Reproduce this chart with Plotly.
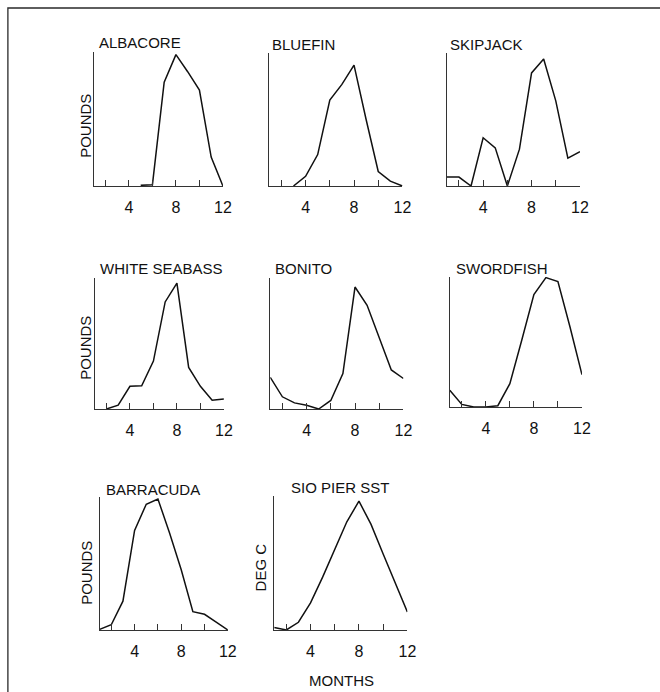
import plotly.graph_objects as go

W, H = 660, 692

months = list(range(1, 13))
albacore = [None, None, None, None, 0.005, 0.01, 0.79, 1.0, 0.87, 0.73, 0.22, 0.0]
bluefin = [None, None, 0.0, 0.08, 0.26, 0.71, 0.84, 1.0, 0.55, 0.12, 0.04, 0.0]
skipjack = [0.07, 0.07, 0.0, 0.38, 0.30, 0.0, 0.29, 0.89, 1.0, 0.67, 0.22, 0.27]
white_seabass = [None, 0.0, 0.03, 0.18, 0.185, 0.38, 0.85, 1.0, 0.33, 0.18, 0.07, 0.08]
bonito = [0.26, 0.10, 0.05, 0.03, 0.0, 0.07, 0.29, 1.0, 0.85, 0.59, 0.32, 0.25]
swordfish = [0.13, 0.02, 0.0, 0.0, 0.01, 0.18, 0.52, 0.87, 1.0, 0.97, 0.62, 0.25]
barracuda = [0.005, 0.04, 0.22, 0.76, 0.96, 1.0, 0.74, 0.46, 0.14, 0.12, 0.06, 0.0]
sio_pier_sst = [0.02, 0.0, 0.06, 0.21, 0.41, 0.63, 0.84, 1.0, 0.82, 0.59, 0.36, 0.14]

titles = ["ALBACORE", "BLUEFIN", "SKIPJACK", "WHITE SEABASS", "BONITO",
          "SWORDFISH", "BARRACUDA", "SIO PIER SST"]
series = [albacore, bluefin, skipjack, white_seabass, bonito, swordfish,
          barracuda, sio_pier_sst]
tick_vals = [2, 4, 6, 8, 10, 12]
tick_text = ["", "4", "", "8", "", "12"]
y_titles = ["POUNDS", "", "", "POUNDS", "", "", "POUNDS", "DEG C"]

# layout: (x_left, x_right, y_top, y_base) pixels, y-range max, title pos
panels = [
    (95, 226, 52, 186, 1.02, 98, 43),
    (273, 408, 53, 186, 1.10, 274, 44),
    (453, 588, 53, 186, 1.047, 454, 44),
    (96, 227, 278, 409, 1.04, 99, 269),
    (274, 409, 278, 409, 1.074, 277, 269),
    (456, 590, 277, 407, 1.005, 460, 269),
    (101, 231, 497, 630, 1.015, 105, 489),
    (278, 413, 496, 630, 1.04, 293, 487),
]
ylabel_pos = [(86, 126), None, None, (86, 348), None, None, (87, 573), (264, 567)]

FONT = "Liberation Sans, Arial, sans-serif"
INK = "#111111"

fig = go.Figure()
annotations = []
layout_axes = {}
for i, (ys, (xl, xr, yt, yb, ymax, tx, ty)) in enumerate(zip(series, panels)):
    n = "" if i == 0 else str(i + 1)
    fig.add_trace(go.Scatter(
        x=months, y=ys, mode="lines", connectgaps=False,
        line=dict(color="#111111", width=1.5),
        xaxis="x" + n, yaxis="y" + n, showlegend=False, hoverinfo="skip"))
    layout_axes["xaxis" + n] = dict(
        domain=[xl / W, xr / W], range=[1, 12], anchor="y" + n,
        showgrid=False, zeroline=False, showline=True, linecolor="#333333",
        linewidth=1.3, ticks="inside", ticklen=6, tickwidth=1.2,
        tickcolor="#333333", tickvals=tick_vals, ticktext=tick_text,
        ticklabelstandoff=7,
        tickfont=dict(family=FONT, size=16, color=INK), fixedrange=True)
    layout_axes["yaxis" + n] = dict(
        domain=[1 - yb / H, 1 - yt / H], range=[0, ymax], anchor="x" + n,
        showgrid=False, zeroline=False, showline=True, linecolor="#333333",
        linewidth=1.3, ticks="", showticklabels=False, fixedrange=True)
    annotations.append(dict(
        text=titles[i], x=tx / W, y=1 - ty / H, xref="paper", yref="paper",
        xanchor="left", yanchor="middle", showarrow=False,
        font=dict(family=FONT, size=15, color=INK)))
    if ylabel_pos[i] is not None:
        px, py = ylabel_pos[i]
        annotations.append(dict(
            text=y_titles[i], x=px / W, y=1 - py / H, xref="paper", yref="paper",
            xanchor="center", yanchor="middle", showarrow=False, textangle=-90,
            font=dict(family=FONT, size=15, color=INK)))

annotations.append(dict(
    text="MONTHS", x=346 / W, y=1 - 680 / H, xref="paper", yref="paper",
    xanchor="center", yanchor="middle", showarrow=False,
    font=dict(family=FONT, size=15, color=INK)))

fig.update_layout(
    width=W, height=H, margin=dict(l=0, r=0, t=0, b=0),
    paper_bgcolor="white", plot_bgcolor="white",
    annotations=annotations,
    shapes=[dict(type="rect", xref="paper", yref="paper",
                 x0=8 / W, y0=-0.05, x1=1.05, y1=1 - 8 / H,
                 line=dict(color="#2a2a2a", width=1.3))],
    **layout_axes)

fig.write_html("out.html")
